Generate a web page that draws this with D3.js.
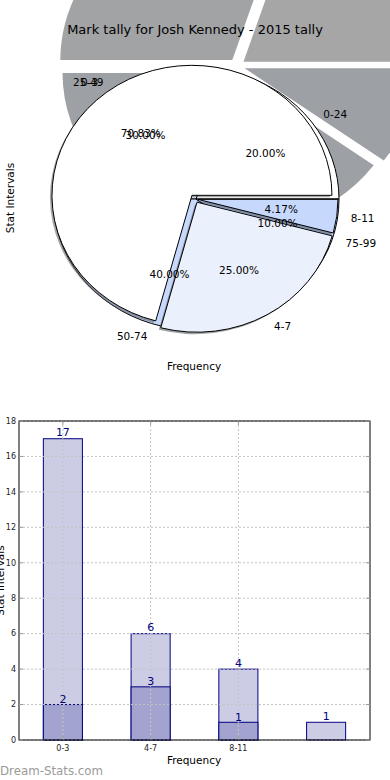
<!DOCTYPE html>
<html><head><meta charset="utf-8">
<script src="https://cdn.jsdelivr.net/npm/d3@7"></script>
<style>
html,body{margin:0;padding:0;background:#fff;}
svg{display:block;}
text{font-family:"DejaVu Sans",sans-serif;}
</style></head><body>
<svg id="c" width="390" height="780"></svg>
<script>
// ---------- data ----------
const chartTitle = "Mark tally for Josh Kennedy - 2015 tally";
const pieOuterLabels = ["0-24","25-49","50-74","75-99"];
const pieOuterValues = [20,30,40,10];
const pieInnerLabels = ["0-3","4-7","8-11"];
const pieInnerValues = [17,6,1];
const barCategories = ["0-3","4-7","8-11","12-15"];
const barTickLabels = ["0-3","4-7","8-11",""];
const barTotals = [17,6,4,1];
const barLower = [2,3,1,0];
const yTicks = [0,2,4,6,8,10,12,14,16,18];

// ---------- styles ----------
const outerColors = ["#ffffff","#eaf0fc","#c6d9fc","#c6d9fc"];
const innerColors = ["#ffffff","#eaf0fc","#c6d9fc"];

const svg = d3.select("#c");
const tau = Math.PI*2;
const pieGen = d3.pie().sort(null).value(d=>d).startAngle(Math.PI/2).endAngle(Math.PI/2 - tau);
const shadowColor = c => { const r=d3.rgb(c); return d3.rgb(r.r*0.3,r.g*0.3,r.b*0.3).toString(); };

function wedges(values, o){
  const s = o.ry/o.rx;
  return pieGen(values).map((d,i)=>{
    const mid=(d.startAngle+d.endAngle)/2;
    const e=o.explode[i]||0;
    return {d, i, mid, cx:o.cx+e*Math.sin(mid), cy:o.cy-e*Math.cos(mid)*s, s};
  });
}
function drawPie(values, colors, o){
  const arc = d3.arc().innerRadius(0).outerRadius(o.rx);
  const w = wedges(values,o);
  const g = svg.append("g");
  if(o.shadow){
    w.forEach(p=>{
      g.append("path").attr("d",arc(p.d))
        .attr("transform",`translate(${p.cx+o.shadow[0]},${p.cy+o.shadow[1]}) scale(1,${p.s})`)
        .attr("fill",shadowColor(colors[p.i])).attr("fill-opacity",0.5);
    });
  }
  if(o.draw!==false){
    w.forEach(p=>{
      g.append("path").attr("d",arc(p.d))
        .attr("transform",`translate(${p.cx},${p.cy}) scale(1,${p.s})`)
        .attr("fill",colors[p.i]).attr("stroke","#000").attr("stroke-width",1)
        .attr("vector-effect","non-scaling-stroke").attr("stroke-linejoin","round");
    });
  }
  return w;
}
function pieTexts(w, labels, values, o){
  const total=d3.sum(values);
  const lab = d3.arc().innerRadius(o.rx*1.1).outerRadius(o.rx*1.1);
  const pct = d3.arc().innerRadius(o.rx*0.6).outerRadius(o.rx*0.6);
  w.forEach(p=>{
    const [lx,ly]=lab.centroid(p.d);
    svg.append("text").attr("x",p.cx+lx).attr("y",p.cy+ly*p.s).attr("dy","0.36em")
      .attr("text-anchor", lx>0?"start":"end").attr("font-size",10.5).attr("fill","#000")
      .text(labels[p.i]);
    const [px,py]=pct.centroid(p.d);
    svg.append("text").attr("x",p.cx+px).attr("y",p.cy+py*p.s).attr("dy","0.36em")
      .attr("text-anchor","middle").attr("font-size",10.5).attr("fill","#000")
      .text((100*values[p.i]/total).toFixed(2)+"%");
  });
}

// big offset shadow of outer pie
const shadowGeom = {cx:237, cy:66, rx:172, ry:157, explode:[8,8,8,8]};
drawPie(pieOuterValues, outerColors, Object.assign({}, shadowGeom, {shadow:[0,0], draw:false}));

// outer pie
const outerGeom = {cx:196, cy:199, rx:143, ry:131, explode:[0,0,0,0]};
const wOuter = drawPie(pieOuterValues, outerColors, outerGeom);

// inner pie
const innerGeom = {cx:195, cy:199, rx:140, ry:130, explode:[5,4,3], shadow:[-2,2]};
const wInner = drawPie(pieInnerValues, innerColors, innerGeom);

pieTexts(wOuter, pieOuterLabels, pieOuterValues, outerGeom);
pieTexts(wInner, pieInnerLabels, pieInnerValues, innerGeom);

svg.append("text").attr("x",195).attr("y",34).attr("text-anchor","middle")
  .attr("font-size",13).attr("fill","#000").text(chartTitle);
svg.append("text").attr("x",194).attr("y",370).attr("text-anchor","middle")
  .attr("font-size",10.5).attr("fill","#000").text("Frequency");
svg.append("text").attr("transform","translate(14,198) rotate(-90)").attr("text-anchor","middle")
  .attr("font-size",10.5).attr("fill","#000").text("Stat Intervals");

// ---------- bar chart ----------
const L=19,R=370,T=421,B=740;
const bx = d3.scaleBand().domain(barCategories).range([L,R]).paddingInner(0.555).paddingOuter(0.2775);
const by = d3.scaleLinear().domain([0,18]).range([B,T]);
const gb = svg.append("g");
gb.selectAll("rect.tot").data(barCategories).enter().append("rect")
  .attr("x",d=>bx(d)).attr("width",bx.bandwidth())
  .attr("y",(d,i)=>by(barTotals[i])).attr("height",(d,i)=>B-by(barTotals[i]))
  .attr("fill","#ccccE4").attr("stroke","#000080").attr("stroke-width",1);
gb.selectAll("rect.low").data(barCategories.filter((d,i)=>barLower[i]>0)).enter().append("rect")
  .attr("x",d=>bx(d)).attr("width",bx.bandwidth())
  .attr("y",d=>by(barLower[barCategories.indexOf(d)])).attr("height",d=>B-by(barLower[barCategories.indexOf(d)]))
  .attr("fill","#a3a3d0").attr("stroke","#000080").attr("stroke-width",1);

// grid
const grid = svg.append("g").attr("stroke","#c4c4c4").attr("stroke-dasharray","2,2").attr("stroke-width",1);
yTicks.forEach(t=>grid.append("line").attr("x1",L).attr("x2",R).attr("y1",by(t)).attr("y2",by(t)));
barCategories.forEach((c,i)=>{ if(barTickLabels[i]) {
  const x=bx(c)+bx.bandwidth()/2;
  grid.append("line").attr("x1",x).attr("x2",x).attr("y1",T).attr("y2",B);
}});

// labels on bars
barCategories.forEach((c,i)=>{
  const x=bx(c)+bx.bandwidth()/2;
  svg.append("text").attr("x",x).attr("y",by(barTotals[i])-2.5).attr("text-anchor","middle")
    .attr("font-size",11).attr("fill","#000080").text(barTotals[i]);
  if(barLower[i]>0) svg.append("text").attr("x",x).attr("y",by(barLower[i])-1.5).attr("text-anchor","middle")
    .attr("font-size",11).attr("fill","#000080").text(barLower[i]);
});

// frame & ticks
svg.append("rect").attr("x",L).attr("y",T).attr("width",R-L).attr("height",B-T)
  .attr("fill","none").attr("stroke","#000").attr("stroke-width",1);
const ticks = svg.append("g").attr("stroke","#999").attr("stroke-width",1);
yTicks.forEach(t=>{
  ticks.append("line").attr("x1",L).attr("x2",L+4).attr("y1",by(t)).attr("y2",by(t));
  ticks.append("line").attr("x1",R-4).attr("x2",R).attr("y1",by(t)).attr("y2",by(t));
  svg.append("text").attr("x",L-3).attr("y",by(t)).attr("dy","0.35em").attr("text-anchor","end")
    .attr("font-size",8).attr("fill","#222").text(t);
});
barCategories.forEach((c,i)=>{ if(barTickLabels[i]){
  const x=bx(c)+bx.bandwidth()/2;
  ticks.append("line").attr("x1",x).attr("x2",x).attr("y1",B).attr("y2",B-4);
  ticks.append("line").attr("x1",x).attr("x2",x).attr("y1",T).attr("y2",T+4);
  svg.append("text").attr("x",x).attr("y",B+11).attr("text-anchor","middle")
    .attr("font-size",8).attr("fill","#222").text(barTickLabels[i]);
}});
svg.append("text").attr("x",194).attr("y",764).attr("text-anchor","middle")
  .attr("font-size",10.5).attr("fill","#000").text("Frequency");
svg.append("text").attr("transform",`translate(4,${(T+B)/2}) rotate(-90)`).attr("text-anchor","middle")
  .attr("font-size",10.5).attr("fill","#000").text("Stat Intervals");

svg.append("text").attr("x",0).attr("y",775)
  .attr("font-size",11.8).attr("fill","#9a9a9a").text("Dream-Stats.com");
</script></body></html>
